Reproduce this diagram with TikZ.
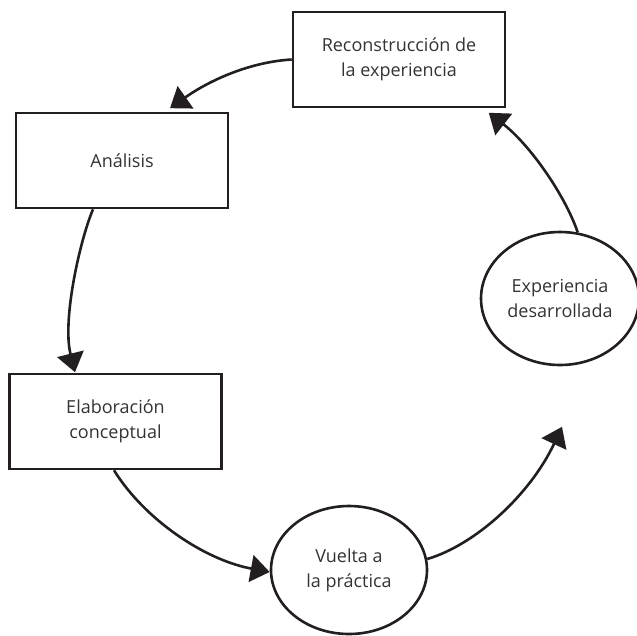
\documentclass[tikz,border=0pt]{standalone}
\usepackage{fontspec}
\setmainfont{Open Sans}
\usetikzlibrary{arrows.meta,shapes.geometric}
\definecolor{ink}{HTML}{231F20}
\definecolor{txt}{HTML}{333333}
\begin{document}
\begin{tikzpicture}[x=1pt,y=-1pt,
  every node/.style={text=txt,font=\fontsize{18}{25}\selectfont,align=center,inner sep=0pt},
  stage/.style={draw=ink,line width=2.6pt,rectangle,minimum width=212pt,minimum height=95pt},
  result/.style={draw=ink,line width=2.6pt,ellipse},
  flow/.style={draw=ink,line width=2.6pt,-{Triangle[length=19pt,width=27pt]}}]
\useasboundingbox (0,0) rectangle (637,635);

% stages of the cycle
\node[stage] (rec) at (399,59.5) {Reconstrucción de\\la experiencia};
\node[stage] (ana) at (122,160.5) {Análisis};
\node[stage] (ela) at (115.5,421.5) {Elaboración\\conceptual};
\node[result,minimum width=156pt,minimum height=128pt] (vue) at (349,570) {Vuelta a\\la práctica};
\node[result,minimum width=158pt,minimum height=133pt] (exp) at (560,298.5) {Experiencia\\desarrollada};

% tips of the open-ended arrows
\coordinate (tipAna) at ([xshift=48pt,yshift=3.5pt]ana.north);
\coordinate (tipEla) at ([xshift=-40.5pt,yshift=0.5pt]ela.north);
\coordinate (tipVue) at ([yshift=-2pt]vue.west);
\coordinate (tipExp) at ([xshift=2pt,yshift=-60.5pt]exp.south);
\coordinate (tipRec) at ([xshift=-17.5pt,yshift=-4.5pt]rec.south east);

% connectors
\draw[flow] (rec.west) .. controls (250,62) and (210,80) .. (tipAna);
\draw[flow] ([xshift=-29pt]ana.south) .. controls (80,240) and (62,320) .. (tipEla);
\draw[flow] ([xshift=-1.5pt]ela.south) .. controls (145,520) and (205,560) .. (tipVue);
\draw[flow] (vue.8) .. controls (475,545) and (530,495) .. (tipExp);
\draw[flow] (exp.75) .. controls (565,195) and (530,145) .. (tipRec);
\end{tikzpicture}
\end{document}
